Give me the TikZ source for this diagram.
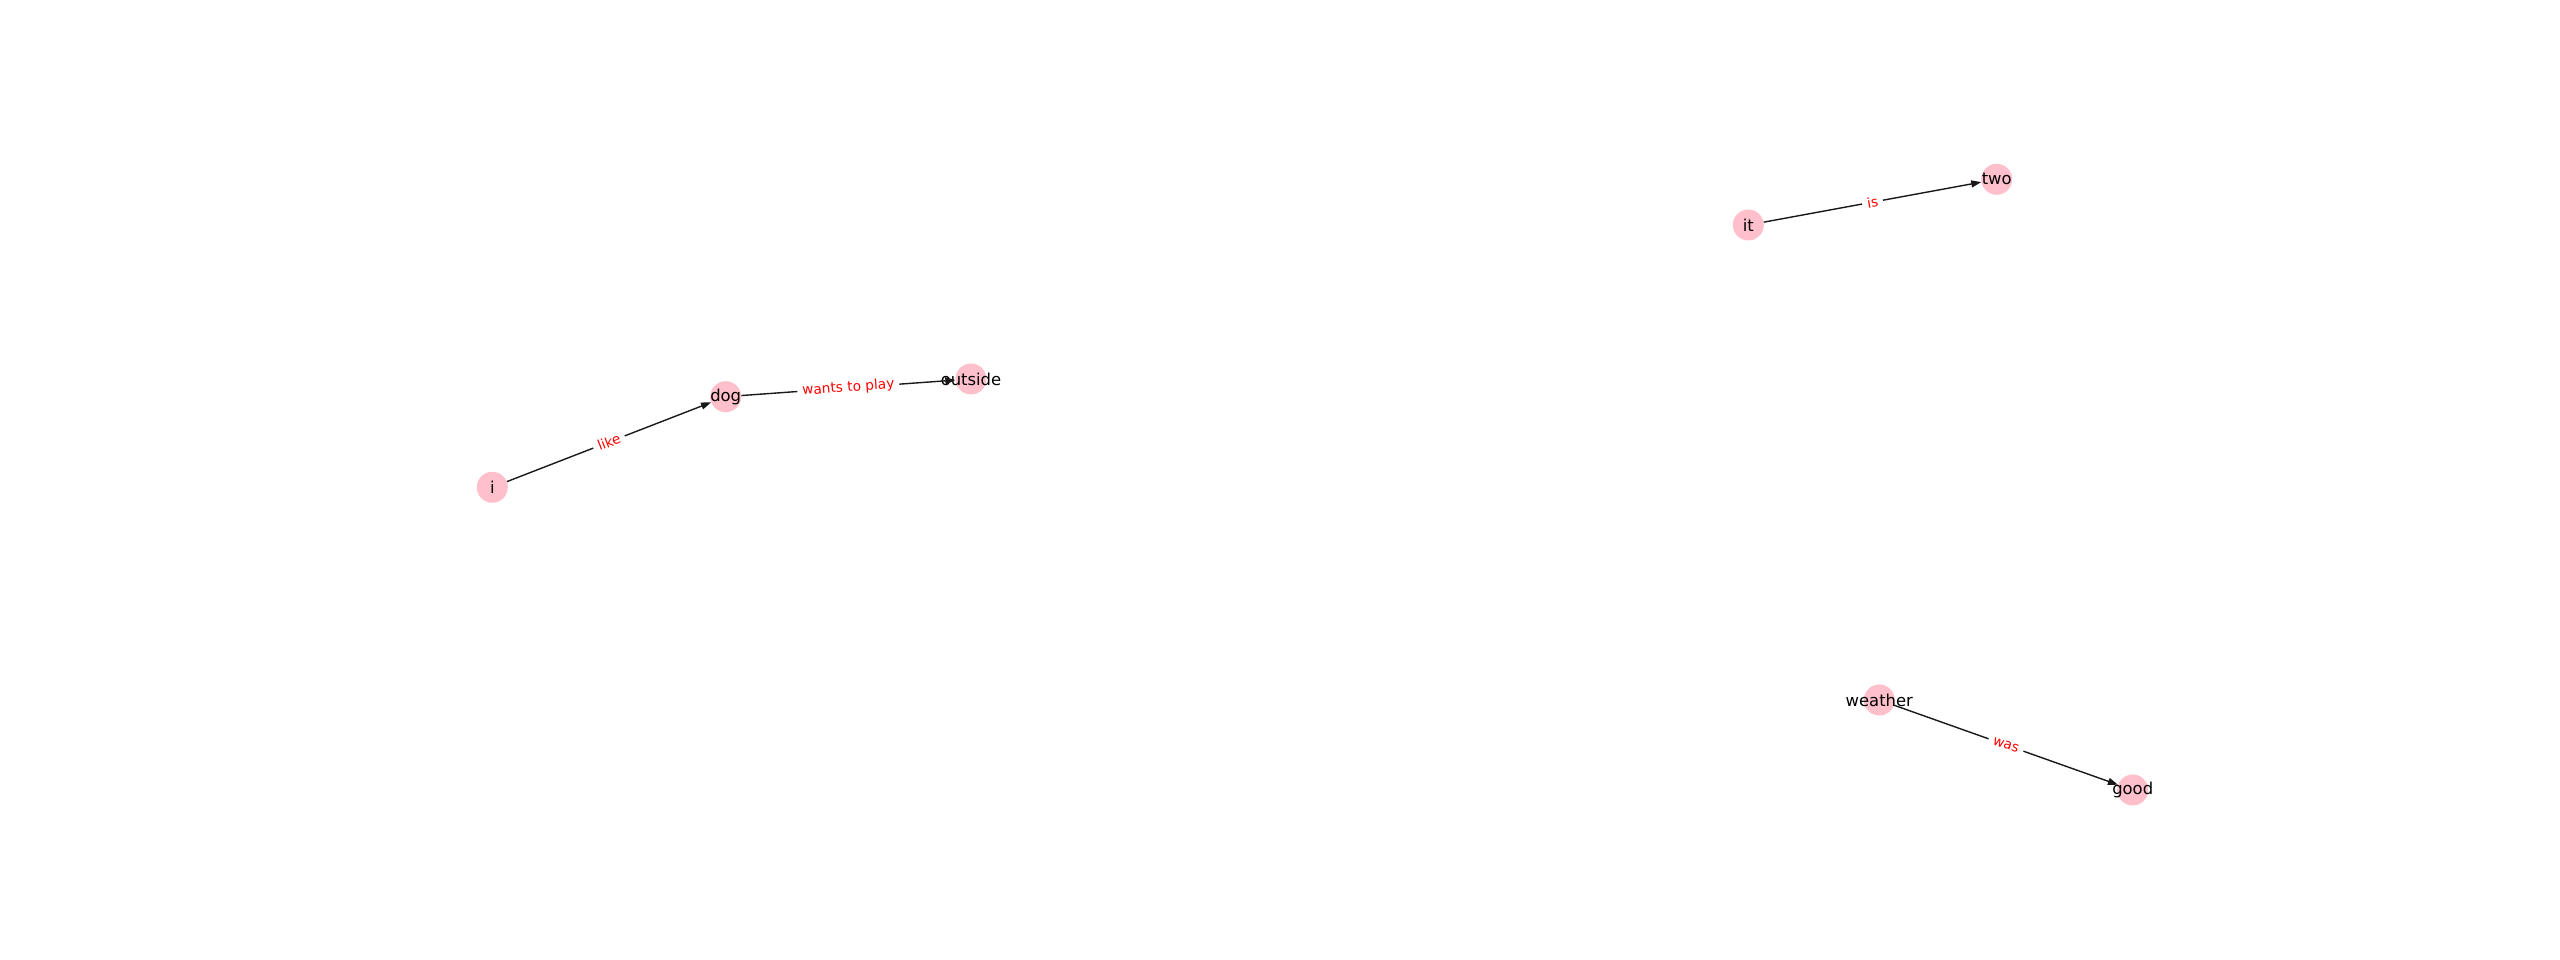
\documentclass[tikz,border=0pt]{standalone}
\usepackage{fontspec}
\setmainfont{DejaVu Sans}
\usetikzlibrary{arrows.meta}
\definecolor{nodepink}{HTML}{FFC0CB}
\tikzset{
  vert/.style={circle, fill=nodepink, minimum size=31pt, inner sep=0pt},
  vlab/.style={font=\fontsize{16.4}{19}\selectfont, text=black},
  edge/.style={draw=black!90, line width=1.4pt, -{Triangle[length=10pt,width=7pt]}},
  elab/.style={midway, sloped, fill=white, text=red, inner xsep=5pt, inner ysep=2pt, font=\fontsize{13.7}{16}\selectfont}
}
\begin{document}
\begin{tikzpicture}[x=1pt,y=1pt]
\useasboundingbox (0,0) rectangle (2560,960);
\node[vert, label={[vlab]center:i}] (i) at (492.3,472.7) {};
\node[vert, label={[vlab]center:dog}] (dog) at (725.7,563.3) {};
\node[vert, label={[vlab]center:outside}] (outside) at (971,581) {};
\node[vert, label={[vlab]center:it}] (it) at (1748.3,735) {};
\node[vert, label={[vlab]center:two}] (two) at (1996.7,780.7) {};
\node[vert, label={[vlab]center:weather}] (weather) at (1879.3,260) {};
\node[vert, label={[vlab]center:good}] (good) at (2132.7,170) {};
\draw[edge] (i) -- node[elab] {like} (dog);
\draw[edge] (dog) -- node[elab] {wants to play} (outside);
\draw[edge] (it) -- node[elab] {is} (two);
\draw[edge] (weather) -- node[elab] {was} (good);
\end{tikzpicture}
\end{document}
